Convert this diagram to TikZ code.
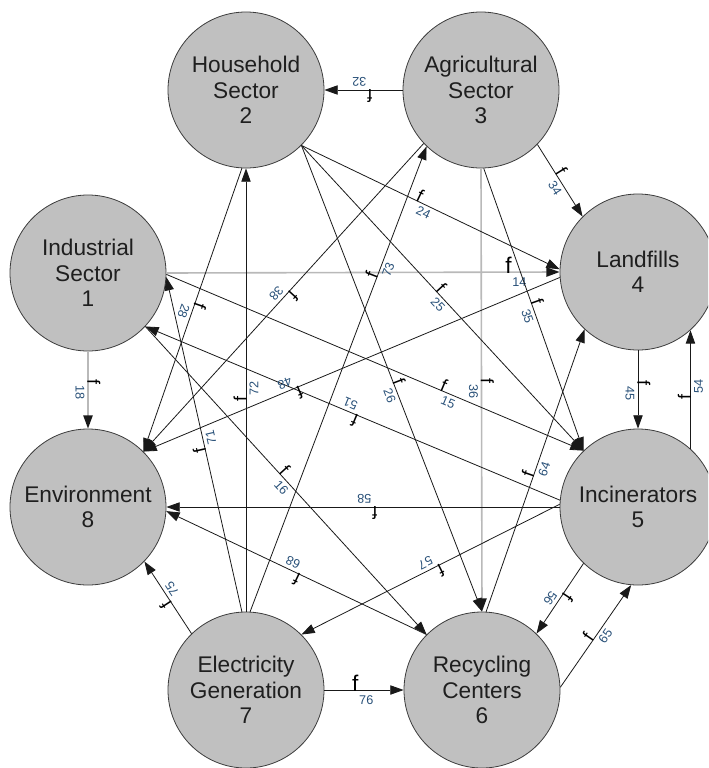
\documentclass[tikz,border=0pt]{standalone}
\usepackage{fontspec}
\setmainfont{Liberation Sans}
\usetikzlibrary{arrows.meta}
\definecolor{nodefill}{RGB}{192,192,192}
\definecolor{nodeline}{RGB}{60,60,60}
\definecolor{subc}{RGB}{40,80,120}
\definecolor{lgray}{RGB}{185,185,185}
\definecolor{edgec}{RGB}{25,25,25}
\newcommand\fsub[1]{f\rlap{\kern0.6pt\raisebox{-1.25ex}{\fontsize{9.5}{10}\selectfont\color{subc}#1}}}
\newcommand\fbig[1]{f\rlap{\kern0.6pt\raisebox{-1.1ex}{\fontsize{9.5}{10}\selectfont\color{subc}#1}}}
\begin{document}
\begin{tikzpicture}[x=0.75pt,y=-0.75pt,
  sector/.style={circle, draw=nodeline, fill=nodefill, line width=0.6pt,
    minimum size=117pt, inner sep=0pt, align=center,
    font=\fontsize{17}{19}\selectfont, text=black!88},
  flow/.style={draw=edgec, line width=0.6pt, -{Triangle[length=10pt,width=7pt]}},
  grayflow/.style={draw=lgray, line width=1.2pt, -{Triangle[length=10pt,width=7pt,color=edgec]}},
  lab/.style={sloped, allow upside down, inner sep=0pt, anchor=center,
    font=\fontsize{13.5}{14}\selectfont},
  biglab/.style={inner sep=0pt, anchor=center, font=\fontsize{17}{18}\selectfont}
]
\useasboundingbox (0,0) rectangle (708,768);
\clip (0,0) rectangle (708,768);

\node[sector] (n1) at (88,273) {Industrial\\Sector\\1};
\node[sector] (n2) at (246,90) {Household\\Sector\\2};
\node[sector] (n3) at (481,90) {Agricultural\\Sector\\3};
\node[sector] (n4) at (638,272) {Landfills\\4};
\node[sector] (n5) at (638,507) {Incinerators\\5};
\node[sector] (n6) at (482,690) {Recycling\\Centers\\6};
\node[sector] (n7) at (246,690) {Electricity\\Generation\\7};
\node[sector] (n8) at (88,507) {Environment\\8};

% gray flows
\draw[grayflow] (n1.0) -- node[biglab,pos=0.87] (l14) {\fbig{14}} (n4.180);
\draw[grayflow] (n1.-90) -- node[lab,pos=0.40] (l18) {\fsub{18}} (n8.90);
\draw[grayflow] (n3.-90) -- node[lab,pos=0.48] (l36) {\fsub{36}} (n6.90);

% black flows
\draw[flow] (n3.180) -- node[lab,pos=0.42] (l32) {\fsub{32}} (n2.0);
\draw[flow] (n2.-45) -- node[lab,pos=0.45] (l24) {\fsub{24}} (n4.178);
\draw[flow] (n3.-44) -- node[lab,pos=0.42] (l34) {\fsub{34}} (n4.135);
\draw[flow] (n2.-45) -- node[lab,pos=0.48] (l25) {\fsub{25}} (n5.134);
\draw[flow] (n3.-88) -- node[lab,pos=0.48] (l35) {\fsub{35}} (n5.134);
\draw[flow] (n2.-45) -- node[lab,pos=0.51] (l26) {\fsub{26}} (n6.90);
\draw[flow] (n1.-1) -- node[lab,pos=0.66] (l15) {\fsub{15}} (n5.134);
\draw[flow] (n5.175) -- node[lab,pos=0.49] (l51) {\fsub{51}} (n1.-43);
\draw[flow] (n5.180) -- node[lab,pos=0.47] (l58) {\fsub{58}} (n8.0);
\draw[flow] (n5.178) -- node[lab,pos=0.47] (l57) {\fsub{57}} (n7.45);
\draw[flow] (n5.-134) -- node[lab,pos=0.44] (l56) {\fsub{56}} (n6.46);
\draw[flow] (n6.2) -- node[lab,pos=0.46] (l65) {\fsub{65}} (n5.-95);
\draw[flow] (n4.-90) -- node[lab,pos=0.42] (l45) {\fsub{45}} (n5.90);
\draw[flow] (n5.48) -- node[lab,pos=0.44] (l54) {\fsub{54}} (n4.-48);
\draw[flow] (n2.-93) -- node[lab,pos=0.48] (l28) {\fsub{28}} (n8.45);
\draw[flow] (n3.-137) -- node[lab,pos=0.48] (l38) {\fsub{38}} (n8.45);
\draw[flow] (n4.-176) -- node[lab,pos=0.63] (l48) {\fsub{48}} (n8.45);
\draw[flow] (n7.90) -- node[lab,pos=0.48] (l72) {\fsub{72}} (n2.-90);
\draw[flow] (n7.93) -- node[lab,pos=0.485] (l71) {\fsub{71}} (n1.-3);
\draw[flow] (n7.87) -- node[lab,pos=0.72] (l73) {\fsub{73}} (n3.-134);
\draw[flow] (n7.134) -- node[lab,pos=0.44] (l75) {\fsub{75}} (n8.-44);
\draw[flow] (n7.0) -- node[biglab,pos=0.39] (l76) {\fbig{76}} (n6.180);
\draw[flow] (n1.-43) -- node[lab,pos=0.48] (l16) {\fsub{16}} (n6.135);
\draw[flow] (n6.135) -- node[lab,pos=0.49] (l68) {\fsub{68}} (n8.-3);
\draw[flow] (n6.87) -- node[lab,pos=0.48] (l64) {\fsub{64}} (n4.-133);
\end{tikzpicture}
\end{document}
